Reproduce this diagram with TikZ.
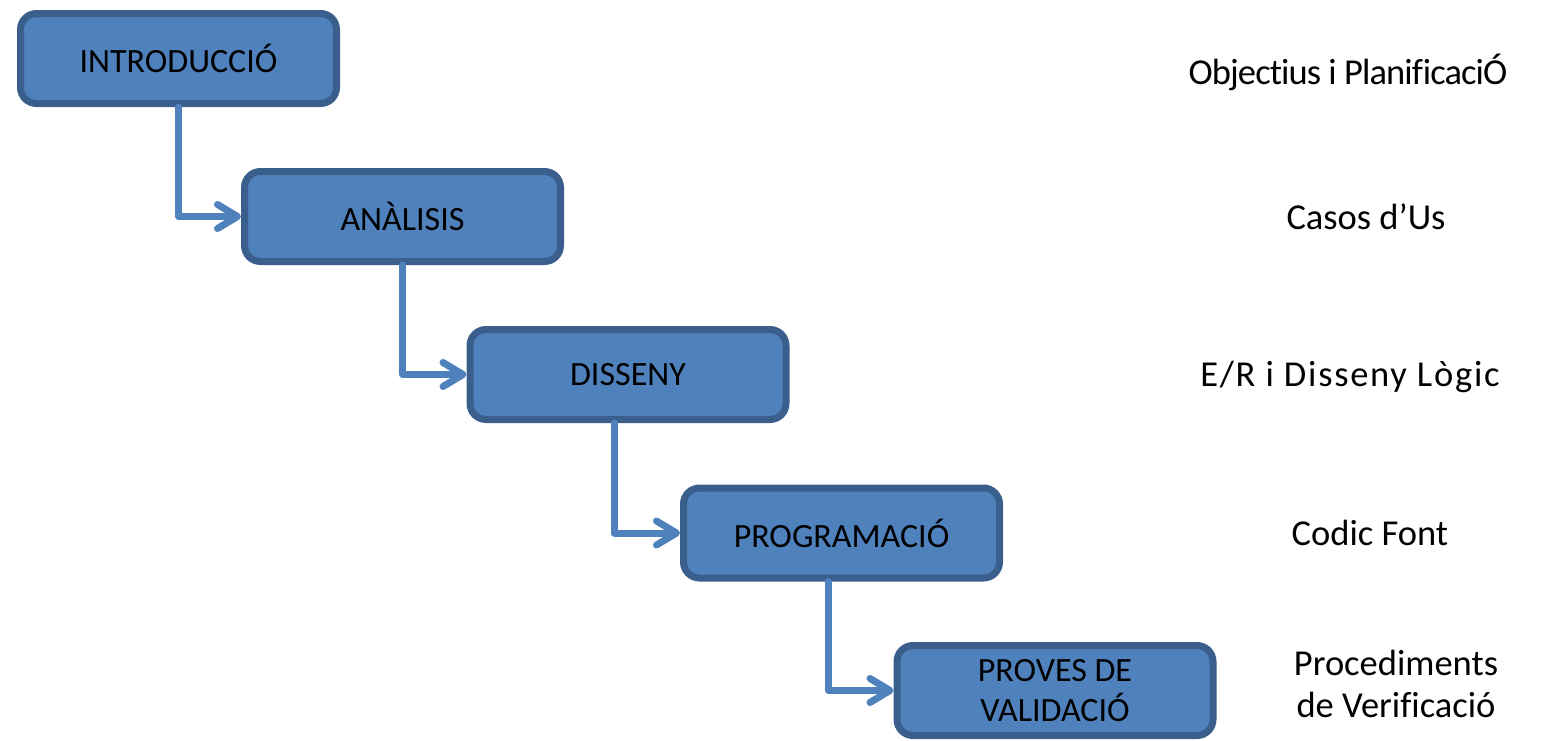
\documentclass[tikz,border=0pt]{standalone}
\usepackage{fontspec}
\setmainfont[RawFeature={-liga;-clig}]{Carlito}
\usetikzlibrary{arrows.meta}
\definecolor{boxfill}{HTML}{4F81BD}
\definecolor{boxline}{HTML}{3A5F8D}
\begin{document}
\begin{tikzpicture}[x=1pt,y=-1pt,
  stage/.style={draw=boxline, fill=boxfill, line width=7pt, rounded corners=16pt,
    minimum width=316pt, minimum height=90pt, inner sep=0pt, align=center,
    font=\fontsize{34}{40}\selectfont},
  conn/.style={draw=boxfill, line width=7pt, line cap=round, line join=round,
    -{Straight Barb[length=20pt,width=24pt,line width=7pt,round]}},
  lbl/.style={font=\fontsize{36.5}{42}\selectfont, align=center, inner sep=0pt}]
\useasboundingbox (0,0) rectangle (1543,740);
\node[stage] (intro) at (178.5,58.5) {INTRODUCCIÓ};
\node[stage] (anal) at (402.5,216.5) {ANÀLISIS};
\node[stage] (dis) at (628,374.5) {DISSENY};
\node[stage] (prog) at (841.5,533) {PROGRAMACIÓ};
\node[stage] (prov) at (1055,690.5) {PROVES DE\\VALIDACIÓ};
\draw[conn] (intro.south) |- (anal.west);
\draw[conn] (anal.south) |- (dis.west);
\draw[conn] ([xshift=-14pt]dis.south) |- (prog.west);
\draw[conn] ([xshift=-13pt]prog.south) |- (prov.west);
\node[lbl] (l1) at (1348,72) {\addfontfeature{LetterSpace=-2.5}Objectius i Planif\kern0pt icaciÓ};
\node[lbl] (l2) at (1366,217) {Casos d’Us};
\node[lbl] (l3) at (1350,377) {\addfontfeature{LetterSpace=4.8}E/R i Disseny Lògic};
\node[lbl] (l4) at (1370,533) {Codic Font};
\node[lbl] (l5) at (1396,684) {Procediments\\de Verif\kern0pt icació};
\end{tikzpicture}
\end{document}
